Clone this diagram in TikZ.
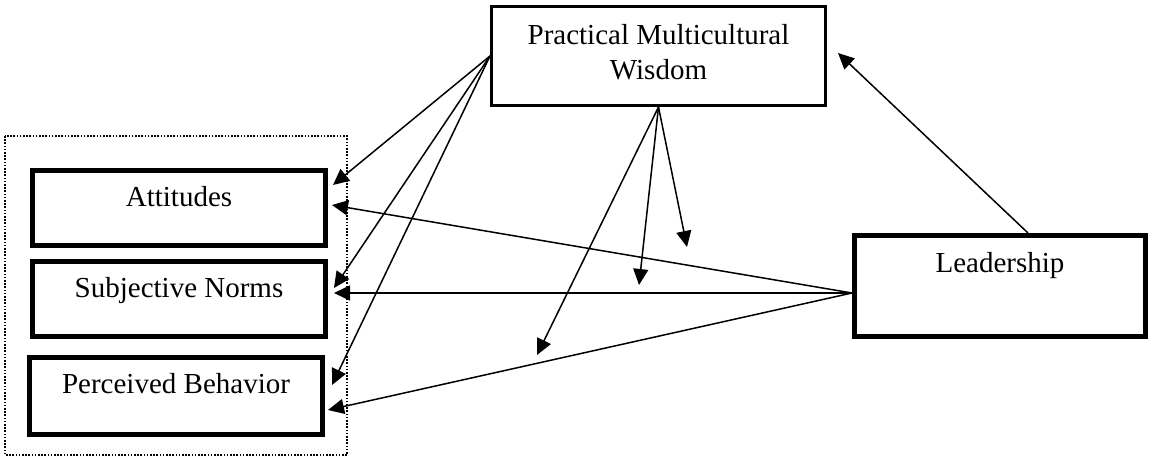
\documentclass[tikz,border=0pt]{standalone}
\usepackage{fontspec}
\setmainfont{Liberation Serif}
\usetikzlibrary{
  arrows.meta,
  calc,
}
\tikzset{
  construct/.style={draw, line width=1.3pt, inner sep=0pt, align=center,
    font=\fontsize{14.5}{17.5}\selectfont},
  factor/.style={construct, line width=2.5pt},
  link/.style={line width=0.75pt, -{Triangle[length=8pt, width=7.5pt]}},
  group/.style={line width=0.9pt, dash pattern=on 0.8pt off 0.8pt},
}

\begin{document}
\begin{tikzpicture}[x=0.5pt, y=-0.5pt]
  \useasboundingbox (0,0) rectangle (1151,459);
  % frame round the three components
  \draw[group] (5,136) rectangle (347,455);
  \node[factor, minimum width=146.5pt, text height=18.25pt, text depth=19.25pt] (att) at (179,208) {Attitudes};
  \node[factor, minimum width=146.5pt, text height=18.25pt, text depth=19.25pt] (sn)  at (179,299) {Subjective Norms};
  \node[factor, minimum width=146.5pt, text height=18.25pt, text depth=20.25pt] (pb)  at (176,396) {Perceived Behavior};
  \node[factor, minimum width=145.5pt, text height=18.75pt, text depth=31.75pt] (lead) at (1000,286) {Leadership};
  \node[construct, minimum width=167.2pt, text height=36.85pt, text depth=12.85pt] (pmw) at (658.5,56) {Practical Multicultural\\Wisdom};
  % ends of the moderating arrows
  \coordinate (m1) at (687,247);
  \coordinate (m2) at (639,285);
  \coordinate (m3) at (537,355);
  % wisdom -> components
  \draw[link] (pmw.west) -- ([xshift=2.5pt, yshift=11.5pt]att.east);
  \draw[link] (pmw.west) -- ([xshift=3pt, yshift=5.5pt]sn.east);
  \draw[link] (pmw.west) -- ([xshift=3.5pt, yshift=5.5pt]pb.east);
  % leadership -> components
  \draw[link] ([yshift=-3.5pt]lead.west) -- ([xshift=2pt, yshift=1.5pt]att.east);
  \draw[link] ([yshift=-3.5pt]lead.west) -- ([xshift=3pt, yshift=3pt]sn.east);
  \draw[link] ([yshift=-3.5pt]lead.west) -- ([xshift=1.5pt, yshift=-7pt]pb.east);
  \draw[link] ([xshift=14pt]lead.north) -- ([xshift=5.5pt, yshift=1.5pt]pmw.east);
  % moderation
  \draw[link] (pmw.south) -- (m1);
  \draw[link] (pmw.south) -- (m2);
  \draw[link] (pmw.south) -- (m3);
\end{tikzpicture}
\end{document}
